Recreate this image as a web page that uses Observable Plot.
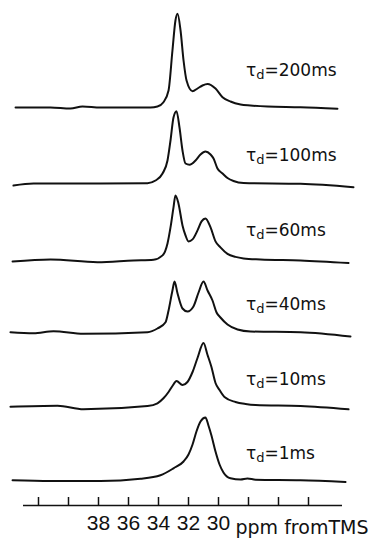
<!DOCTYPE html>
<html>
<head>
<meta charset="utf-8">
<script src="https://cdn.jsdelivr.net/npm/d3@7"></script>
<script src="https://cdn.jsdelivr.net/npm/@observablehq/plot@0.6"></script>
<style>
  html, body { margin: 0; padding: 0; background: #fff; }
  #chart { width: 372px; height: 544px; }
</style>
</head>
<body>
<div id="chart"></div>
<script>
// Delay times (one trace each, top to bottom)
const delays = ["200ms", "100ms", "60ms", "40ms", "10ms", "1ms"];

// Each trace: [chemical shift (ppm from TMS), signal intensity (arbitrary units)]
const spectrum200ms = [
  [43.53, 1.5], [41.2, 1.5], [39.87, 0.4], [39.07, 2.5], [37.87, 1.5], [34.53, 1.5],
  [34.07, 2.5], [33.67, 6.8], [33.33, 18.5], [33.07, 58.5], [32.87, 88.5], [32.73, 95.2],
  [32.53, 78.5], [32.33, 48.5], [32.13, 28.5], [31.73, 17.8], [31.4, 20.5], [31.07, 23.5],
  [30.73, 25], [30.2, 20.5], [29.73, 11.8], [29.2, 7.5], [28.53, 4.5], [27.87, 3.5],
  [26.73, 2.5], [24.53, 1.8], [22.07, 0.2]
];
const spectrum100ms = [
  [43.67, -2], [42.33, 0], [37.87, 0], [34.73, 0.3], [34.2, 3], [33.73, 10], [33.4, 23],
  [33.2, 43], [33.0, 66], [32.8, 72.3], [32.6, 56], [32.4, 33], [32.2, 20], [31.93, 18.7],
  [31.53, 23], [31.2, 29], [30.87, 32], [30.53, 29], [30.33, 25], [30.07, 15], [29.73, 10],
  [29.4, 5.5], [29.0, 2.5], [28.33, 0.5], [24.53, -0.3], [21.0, -3.7]
];
const spectrum60ms = [
  [43.73, -3.5], [41.2, -1.4], [38.07, -4.2], [35.67, -2.4], [34.33, -1.7], [33.73, 2.6],
  [33.4, 14.6], [33.2, 30.6], [33.0, 50.6], [32.87, 62.6], [32.67, 54.6], [32.4, 32.6],
  [32.2, 22.6], [32.0, 16.6], [31.73, 18.6], [31.4, 27.6], [31.13, 36.6], [30.87, 39.6],
  [30.53, 30.6], [30.2, 16.6], [29.87, 10.6], [29.4, 4.1], [28.87, 1.1], [28.33, -0.4],
  [27.2, -1.4], [24.53, -2.4], [21.33, -5.0]
];
const spectrum40ms = [
  [43.87, 0.3], [42.33, -0.7], [41.0, 1.3], [39.0, -1.3], [34.73, 0.3], [34.07, 4],
  [33.53, 10.3], [33.33, 22], [33.07, 42], [32.93, 51], [32.73, 39], [32.4, 24],
  [32.07, 21], [31.67, 26], [31.33, 40], [31.0, 51], [30.73, 42], [30.4, 32], [30.13, 20],
  [29.87, 15], [29.4, 8], [28.73, 3], [27.87, 1], [24.53, 0.3], [21.2, -4]
];
const spectrum10ms = [
  [43.87, 0.3], [40.73, 1.3], [39.0, -2.3], [34.73, 1], [34.07, 3.7], [33.67, 8.7],
  [33.33, 15], [33.07, 21], [32.8, 26], [32.4, 22], [32.07, 25], [31.73, 35], [31.4, 49],
  [31.0, 64], [30.73, 52], [30.47, 40], [30.2, 24], [29.93, 17], [29.6, 10], [28.87, 5],
  [28.2, 3], [27.53, 2], [24.53, 1], [21.33, -2.3]
];
const spectrum1ms = [
  [43.73, 1.2], [41.2, 0.5], [37.87, 0.5], [35.2, 2.7], [33.87, 6.2], [33.0, 13.2],
  [32.33, 20], [32.0, 27], [31.73, 37], [31.47, 50], [31.2, 60], [30.87, 64],
  [30.67, 56], [30.47, 46], [30.2, 30], [29.93, 17], [29.67, 9], [29.2, 3.2],
  [28.53, 2.0], [28.07, 3.0], [27.53, 1.8], [24.53, 1.2], [21.53, -0.5]
];

// Axis ticks and labels
const axisTicks = [42, 40, 38, 36, 34, 32, 30, 28, 26, 24];
const tickLabels = [38, 36, 34, 32, 30];
const xLabel = "ppm fromTMS";
const labelPrefix = "τd=";

const traces = [spectrum200ms, spectrum100ms, spectrum60ms, spectrum40ms, spectrum10ms, spectrum1ms];
const points = traces.flatMap((arr, i) =>
  arr.map(([ppm, intensity]) => ({delay: delays[i], ppm, intensity}))
);

const Y_DOMAIN = [-24, 50.5];
const lastDelay = delays[delays.length - 1];
const ink = "#111";

const chart = Plot.plot({
  width: 372,
  height: 544,
  marginLeft: 23,
  marginRight: 30,
  marginTop: 58,
  marginBottom: 39,
  style: {fontFamily: "DejaVu Sans", fontSize: "17px", background: "white", color: ink},
  x: {domain: [43, 21.7333], axis: null},
  y: {domain: Y_DOMAIN, axis: null},
  fy: {domain: delays, padding: 0, round: false, axis: null},
  marks: [
    Plot.line(points, {
      x: "ppm", y: "intensity", fy: "delay", z: "delay",
      curve: "monotone-x", stroke: ink, strokeWidth: 2, strokeLinejoin: "round"
    }),
    Plot.text([delays[0]], {
      fy: d => d, x: 28.17, y: 0, text: d => labelPrefix + d,
      textAnchor: "start", lineAnchor: "bottom", dy: -33.5, fontSize: 17, fill: ink
    }),
    Plot.text(delays.slice(1), {
      fy: d => d, x: 28.17, y: 0, text: d => labelPrefix + d,
      textAnchor: "start", lineAnchor: "bottom", dy: -22.5, fontSize: 17, fill: ink
    }),
    Plot.ruleY([Y_DOMAIN[0]], {fy: () => lastDelay, stroke: ink, strokeWidth: 1.5}),
    Plot.tickX(axisTicks, {
      x: d => d, fy: () => lastDelay, insetTop: 74.5 - 8, stroke: ink, strokeWidth: 1.5
    }),
    Plot.text(tickLabels, {
      x: d => d, fy: () => lastDelay, frameAnchor: "bottom", lineAnchor: "top",
      dy: 10, fontSize: 21, fontFamily: "Liberation Sans", fill: ink
    }),
    Plot.text([xLabel], {
      fy: () => lastDelay, frameAnchor: "bottom-right", textAnchor: "start",
      lineAnchor: "bottom", dx: -107, dy: 28, fontSize: 19, fill: ink
    })
  ]
});

// Subscript "d" in the τd labels
const ns = "http://www.w3.org/2000/svg";
chart.querySelectorAll("text").forEach(t => {
  const s = t.textContent;
  if (s.startsWith(labelPrefix)) {
    t.textContent = "";
    const a = document.createElementNS(ns, "tspan");
    a.textContent = "τ";
    const b = document.createElementNS(ns, "tspan");
    b.textContent = "d";
    b.setAttribute("dy", "3");
    b.setAttribute("font-size", "13");
    const c = document.createElementNS(ns, "tspan");
    c.textContent = s.slice(labelPrefix.length - 1);
    c.setAttribute("dy", "-3");
    t.append(a, b, c);
  }
});

document.getElementById("chart").append(chart);
</script>
</body>
</html>
